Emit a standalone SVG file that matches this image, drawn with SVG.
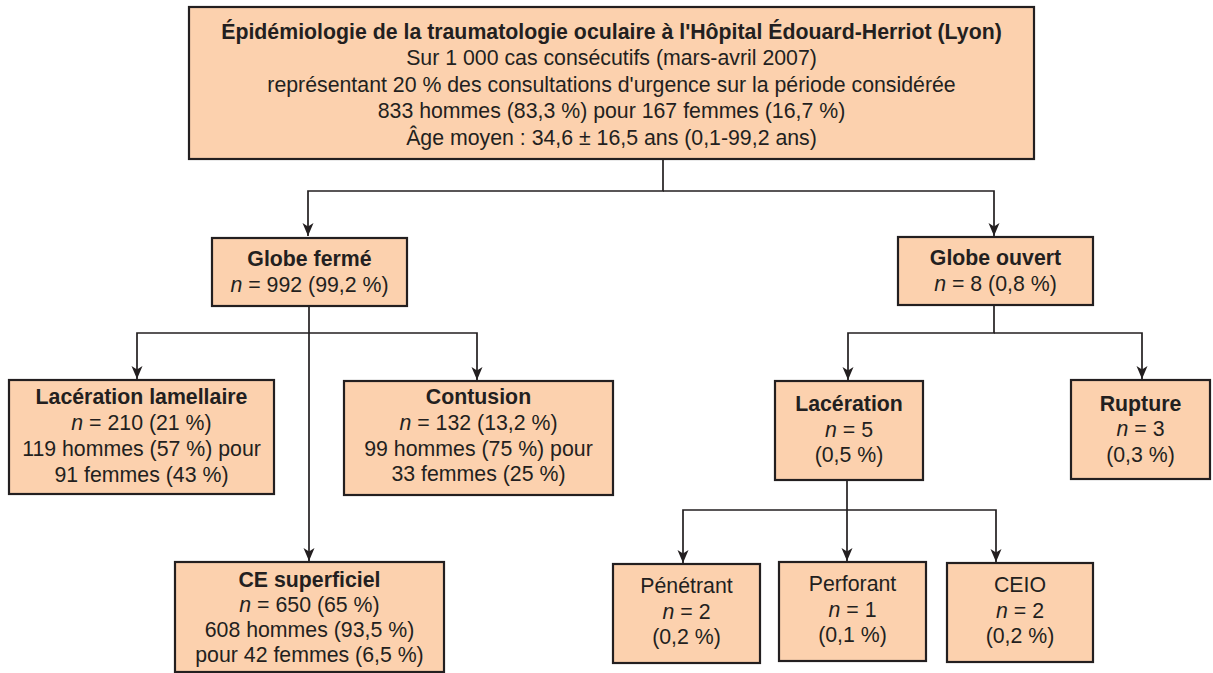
<svg xmlns="http://www.w3.org/2000/svg" width="1213" height="673" viewBox="0 0 1213 673">
<defs>
<style>
.box{fill:#FCD1AE;stroke:#231F20;stroke-width:2.2}
.t{font-family:"Liberation Sans",Arial,sans-serif;font-size:21.3px;fill:#231F20;text-anchor:middle}
.b{font-weight:bold}
.i{font-style:italic}
.c{fill:none;stroke:#231F20;stroke-width:1.7}
</style>
<marker id="ah" markerUnits="userSpaceOnUse" markerWidth="13" markerHeight="13" viewBox="0 0 13 13" refX="13" refY="6.5" orient="auto">
<path d="M0,1 L13,6.5 L0,12 L3.5,6.5 z" fill="#231F20"/>
</marker>
</defs>
<rect width="1213" height="673" fill="#ffffff"/>
<g id="connectors">
<path class="c" d="M663,159 V191 H308 V236" marker-end="url(#ah)"/>
<path class="c" d="M663,191 H994 V236" marker-end="url(#ah)"/>
<path class="c" d="M309,306 V561" marker-end="url(#ah)"/>
<path class="c" d="M309,333 H137 V379" marker-end="url(#ah)"/>
<path class="c" d="M309,333 H477 V380" marker-end="url(#ah)"/>
<path class="c" d="M994,305 V333 H848 V380" marker-end="url(#ah)"/>
<path class="c" d="M994,333 H1142 V379" marker-end="url(#ah)"/>
<path class="c" d="M847,480 V561" marker-end="url(#ah)"/>
<path class="c" d="M847,510 H683 V563" marker-end="url(#ah)"/>
<path class="c" d="M847,510 H996 V562" marker-end="url(#ah)"/>
</g>
<g id="root">
<rect class="box" x="189" y="7" width="845" height="152"/>
<text class="t b" x="611.5" y="38.5">Épidémiologie de la traumatologie oculaire à l'Hôpital Édouard-Herriot (Lyon)</text>
<text class="t" x="611.5" y="65">Sur 1 000 cas consécutifs (mars-avril 2007)</text>
<text class="t" x="611.5" y="91.5">représentant 20 % des consultations d'urgence sur la période considérée</text>
<text class="t" x="611.5" y="118">833 hommes (83,3 %) pour 167 femmes (16,7 %)</text>
<text class="t" x="611.5" y="144.5">Âge moyen : 34,6 ± 16,5 ans (0,1-99,2 ans)</text>
</g>
<g id="globe-ferme">
<rect class="box" x="212" y="238" width="195" height="68"/>
<text class="t b" x="309.5" y="266">Globe fermé</text>
<text class="t" x="309.5" y="292"><tspan class="i">n</tspan> = 992 (99,2 %)</text>
</g>
<g id="laceration-lamellaire">
<rect class="box" x="9" y="380" width="265" height="114"/>
<text class="t b" x="141.5" y="404">Lacération lamellaire</text>
<text class="t" x="141.5" y="430"><tspan class="i">n</tspan> = 210 (21 %)</text>
<text class="t" x="141.5" y="456">119 hommes (57 %) pour</text>
<text class="t" x="141.5" y="482">91 femmes (43 %)</text>
</g>
<g id="contusion">
<rect class="box" x="344" y="381" width="269" height="114"/>
<text class="t b" x="478.5" y="404">Contusion</text>
<text class="t" x="478.5" y="430"><tspan class="i">n</tspan> = 132 (13,2 %)</text>
<text class="t" x="478.5" y="456">99 hommes (75 %) pour</text>
<text class="t" x="478.5" y="481">33 femmes (25 %)</text>
</g>
<g id="ce-superficiel">
<rect class="box" x="175" y="562" width="269" height="110"/>
<text class="t b" x="309.5" y="587">CE superficiel</text>
<text class="t" x="309.5" y="612"><tspan class="i">n</tspan> = 650 (65 %)</text>
<text class="t" x="309.5" y="637">608 hommes (93,5 %)</text>
<text class="t" x="309.5" y="662">pour 42 femmes (6,5 %)</text>
</g>
<g id="globe-ouvert">
<rect class="box" x="898" y="237" width="195" height="68"/>
<text class="t b" x="995.5" y="265">Globe ouvert</text>
<text class="t" x="995.5" y="291"><tspan class="i">n</tspan> = 8 (0,8 %)</text>
</g>
<g id="laceration">
<rect class="box" x="775" y="381" width="148" height="99"/>
<text class="t b" x="849" y="411">Lacération</text>
<text class="t" x="849" y="437"><tspan class="i">n</tspan> = 5</text>
<text class="t" x="849" y="462">(0,5 %)</text>
</g>
<g id="rupture">
<rect class="box" x="1071" y="380" width="139" height="99"/>
<text class="t b" x="1140.5" y="411">Rupture</text>
<text class="t" x="1140.5" y="436"><tspan class="i">n</tspan> = 3</text>
<text class="t" x="1140.5" y="462">(0,3 %)</text>
</g>
<g id="penetrant">
<rect class="box" x="613" y="564" width="147" height="99"/>
<text class="t" x="686.5" y="593">Pénétrant</text>
<text class="t" x="686.5" y="619"><tspan class="i">n</tspan> = 2</text>
<text class="t" x="686.5" y="644">(0,2 %)</text>
</g>
<g id="perforant">
<rect class="box" x="779" y="562" width="147" height="99"/>
<text class="t" x="852.5" y="591">Perforant</text>
<text class="t" x="852.5" y="617"><tspan class="i">n</tspan> = 1</text>
<text class="t" x="852.5" y="642">(0,1 %)</text>
</g>
<g id="ceio">
<rect class="box" x="947" y="563" width="146" height="99"/>
<text class="t" x="1020" y="592">CEIO</text>
<text class="t" x="1020" y="618"><tspan class="i">n</tspan> = 2</text>
<text class="t" x="1020" y="643">(0,2 %)</text>
</g>
</svg>
